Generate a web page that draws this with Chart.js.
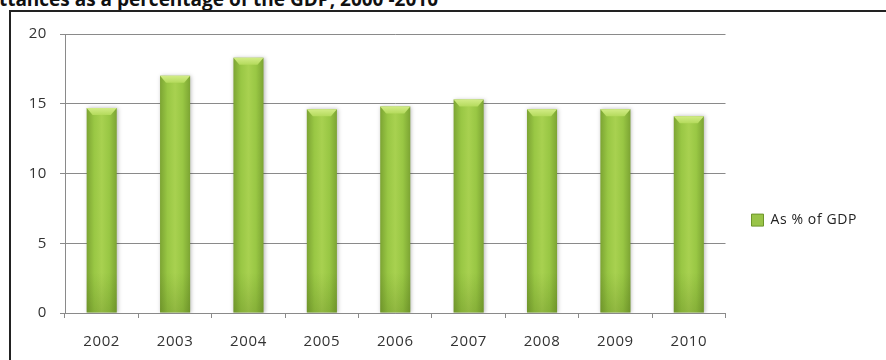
<!DOCTYPE html>
<html lang="en">
  <head>
    <meta charset="UTF-8">
    <title>Remittances as % of GDP</title>
    <script src="https://cdn.jsdelivr.net/npm/chart.js"></script>
    <style>
      body { margin: 0; background: #fff; }
      #wrap { position: relative; width: 886px; height: 360px; overflow: hidden; }
      #heading {
        position: absolute; right: 448px; top: -10px;
        font: bold 19px 'Open Sans', sans-serif; color: #111;
        white-space: nowrap; line-height: 1;
      }
      #frame {
        position: absolute; left: 9px; top: 10px; width: 900px; height: 400px;
        border-left: 2px solid #222; border-top: 2px solid #222;
      }
      canvas { position: absolute; left: 0; top: 0; }
    </style>
  </head>
  <body>
    <div id="wrap">
      <div id="heading">Remittances as a percentage of the GDP, 2000 -2010</div>
      <div id="frame"></div>
      <canvas id="gdpChart" width="886" height="360"></canvas>
    </div>

    <script>
      const years = ['2002', '2003', '2004', '2005', '2006', '2007', '2008', '2009', '2010'];
      const pctOfGdp = [14.7, 17.0, 18.3, 14.6, 14.8, 15.3, 14.6, 14.6, 14.1];
      const seriesName = 'As % of GDP';

      // horizontal gradient so each bar looks like a rounded column
      function barFill(ctx) {
        const chart = ctx.chart;
        const xs = chart.scales.x;
        if (!xs || ctx.dataIndex === undefined) return '#9cc646';
        const cx = xs.getPixelForValue(ctx.dataIndex);
        const half = xs.width / years.length * 0.41 / 2;
        const g = chart.ctx.createLinearGradient(cx - half, 0, cx + half, 0);
        g.addColorStop(0, '#7ca433');
        g.addColorStop(0.25, '#99c744');
        g.addColorStop(0.5, '#a8d150');
        g.addColorStop(0.75, '#99c744');
        g.addColorStop(1, '#7ca433');
        return g;
      }

      // slightly loose letter spacing; set before layout so text gets measured with it
      const looseText = {
        id: 'looseText',
        beforeUpdate(chart) { chart.ctx.letterSpacing = '0.6px'; },
        beforeDraw(chart) { chart.ctx.letterSpacing = '0.6px'; }
      };

      // soft shadow behind the bars and a light bevel on their tops
      const barDecor = {
        id: 'barDecor',
        beforeDatasetDraw(chart) {
          const c = chart.ctx;
          c.save();
          c.shadowColor = 'rgba(0,0,0,0.28)';
          c.shadowBlur = 4;
          c.shadowOffsetX = 1;
          c.shadowOffsetY = 0;
        },
        afterDatasetDraw(chart, args) {
          const c = chart.ctx;
          c.restore();
          args.meta.data.forEach(bar => {
            const half = bar.width / 2;
            const bev = 7;
            const g = c.createLinearGradient(0, bar.y, 0, bar.y + bev);
            g.addColorStop(0, '#d2ec86');
            g.addColorStop(1, '#b4da5c');
            c.save();
            c.fillStyle = g;
            c.beginPath();
            c.moveTo(bar.x - half, bar.y);
            c.lineTo(bar.x + half, bar.y);
            c.lineTo(bar.x + half - 6, bar.y + bev);
            c.lineTo(bar.x - half + 6, bar.y + bev);
            c.closePath();
            c.fill();
            // darker foot near the axis
            const foot = c.createLinearGradient(0, bar.base - 40, 0, bar.base);
            foot.addColorStop(0, 'rgba(60,90,10,0)');
            foot.addColorStop(1, 'rgba(60,90,10,0.22)');
            c.fillStyle = foot;
            c.fillRect(bar.x - half, bar.base - 40, bar.width, 40);
            c.restore();
          });
        }
      };

      const tickFont = { family: 'Open Sans', size: 15 };

      new Chart(document.getElementById('gdpChart'), {
        type: 'bar',
        data: {
          labels: years,
          datasets: [{
            label: seriesName,
            data: pctOfGdp,
            backgroundColor: barFill,
            borderWidth: 0,
            barPercentage: 0.41,
            categoryPercentage: 1
          }]
        },
        options: {
          responsive: false,
          animation: false,
          layout: { padding: { top: 34, right: 19, left: 0, bottom: 0 } },
          plugins: {
            tooltip: { enabled: false },
            legend: {
              position: 'right',
              // empty title only pushes the single entry a bit lower
              title: { display: true, text: '', font: { size: 1 }, padding: { top: 45, bottom: 0 } },
              labels: {
                font: { family: 'Open Sans', size: 14 },
                color: '#222',
                boxWidth: 12,
                boxHeight: 12,
                padding: 26,
                generateLabels: chart => [{
                  text: seriesName,
                  fillStyle: '#99c448',
                  strokeStyle: '#6e962a',
                  lineWidth: 1,
                  fontColor: '#222'
                }]
              }
            }
          },
          scales: {
            x: {
              afterFit: s => { s.height = 47; },
              grid: { drawOnChartArea: false, drawTicks: true, tickLength: 5, color: '#8a8a8a' },
              border: { color: '#8a8a8a' },
              ticks: { font: tickFont, color: '#333', padding: 15 }
            },
            y: {
              min: 0,
              max: 20,
              afterFit: s => { s.width = 65; },
              grid: { color: '#8a8a8a', tickLength: 5 },
              border: { color: '#8a8a8a' },
              ticks: { stepSize: 5, font: tickFont, color: '#333', padding: 13 }
            }
          }
        },
        plugins: [looseText, barDecor]
      });
    </script>
  </body>
</html>
